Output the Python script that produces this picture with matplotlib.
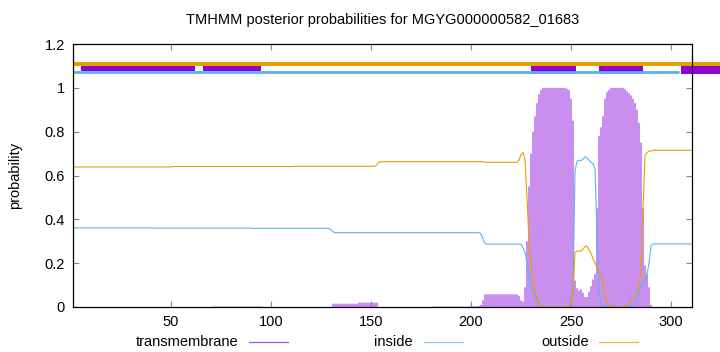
import matplotlib
matplotlib.use("Agg")
import matplotlib.pyplot as plt
from matplotlib.patches import Rectangle
from matplotlib.lines import Line2D

plt.rcParams['font.family'] = ['Liberation Sans', 'DejaVu Sans']

# posterior probabilities, one value per residue (1..310)
inside = [
    0.361, 0.361, 0.361, 0.361, 0.361, 0.361, 0.361, 0.361, 0.361, 0.361,
    0.361, 0.361, 0.361, 0.361, 0.361, 0.361, 0.361, 0.361, 0.361, 0.361,
    0.361, 0.361, 0.361, 0.361, 0.361, 0.361, 0.361, 0.361, 0.361, 0.361,
    0.361, 0.361, 0.361, 0.361, 0.361, 0.361, 0.361, 0.361, 0.361, 0.361,
    0.360, 0.360, 0.360, 0.360, 0.360, 0.360, 0.360, 0.360, 0.360, 0.360,
    0.360, 0.360, 0.360, 0.360, 0.360, 0.360, 0.360, 0.360, 0.360, 0.360,
    0.360, 0.360, 0.360, 0.360, 0.360, 0.360, 0.360, 0.360, 0.360, 0.360,
    0.360, 0.360, 0.360, 0.360, 0.360, 0.360, 0.360, 0.360, 0.360, 0.360,
    0.360, 0.360, 0.360, 0.360, 0.360, 0.360, 0.360, 0.360, 0.360, 0.360,
    0.359, 0.359, 0.359, 0.359, 0.359, 0.359, 0.359, 0.359, 0.359, 0.359,
    0.359, 0.359, 0.359, 0.359, 0.359, 0.359, 0.359, 0.359, 0.359, 0.359,
    0.359, 0.359, 0.359, 0.359, 0.359, 0.359, 0.359, 0.359, 0.359, 0.359,
    0.359, 0.359, 0.359, 0.359, 0.359, 0.359, 0.359, 0.359, 0.359, 0.352,
    0.343, 0.339, 0.339, 0.339, 0.339, 0.339, 0.339, 0.339, 0.339, 0.339,
    0.339, 0.339, 0.339, 0.339, 0.339, 0.339, 0.339, 0.339, 0.339, 0.339,
    0.339, 0.339, 0.339, 0.339, 0.339, 0.339, 0.339, 0.339, 0.339, 0.339,
    0.339, 0.339, 0.339, 0.339, 0.339, 0.339, 0.339, 0.339, 0.339, 0.339,
    0.339, 0.339, 0.339, 0.339, 0.339, 0.339, 0.339, 0.339, 0.339, 0.339,
    0.339, 0.339, 0.339, 0.339, 0.339, 0.339, 0.339, 0.339, 0.339, 0.339,
    0.339, 0.339, 0.339, 0.339, 0.339, 0.339, 0.339, 0.339, 0.339, 0.339,
    0.339, 0.339, 0.339, 0.339, 0.334, 0.310, 0.290, 0.287, 0.287, 0.287,
    0.287, 0.287, 0.287, 0.287, 0.287, 0.287, 0.287, 0.287, 0.287, 0.287,
    0.287, 0.287, 0.287, 0.287, 0.287, 0.270, 0.250, 0.200, 0.150, 0.100,
    0.070, 0.050, 0.030, 0.015, 0.005, 0.000, 0.000, 0.000, 0.000, 0.000,
    0.000, 0.000, 0.000, 0.000, 0.000, 0.000, 0.000, 0.000, 0.005, 0.020,
    0.100, 0.620, 0.665, 0.670, 0.668, 0.675, 0.685, 0.680, 0.670, 0.660,
    0.655, 0.630, 0.350, 0.060, 0.020, 0.010, 0.005, 0.000, 0.000, 0.000,
    0.000, 0.000, 0.000, 0.000, 0.000, 0.000, 0.000, 0.000, 0.000, 0.005,
    0.010, 0.020, 0.035, 0.060, 0.100, 0.110, 0.120, 0.150, 0.200, 0.280,
    0.288, 0.288, 0.288, 0.288, 0.288, 0.288, 0.288, 0.288, 0.288, 0.288,
    0.288, 0.288, 0.288, 0.288, 0.288, 0.288, 0.288, 0.288, 0.288, 0.288,
]

outside = [
    0.639, 0.639, 0.639, 0.639, 0.639, 0.639, 0.639, 0.639, 0.639, 0.639,
    0.639, 0.639, 0.639, 0.639, 0.639, 0.639, 0.639, 0.639, 0.639, 0.639,
    0.639, 0.639, 0.639, 0.639, 0.639, 0.639, 0.639, 0.639, 0.639, 0.639,
    0.639, 0.639, 0.639, 0.639, 0.639, 0.639, 0.639, 0.639, 0.639, 0.639,
    0.639, 0.639, 0.639, 0.639, 0.639, 0.639, 0.639, 0.639, 0.639, 0.639,
    0.641, 0.641, 0.641, 0.641, 0.641, 0.641, 0.641, 0.641, 0.641, 0.641,
    0.641, 0.641, 0.641, 0.641, 0.641, 0.641, 0.641, 0.641, 0.641, 0.641,
    0.641, 0.641, 0.641, 0.641, 0.641, 0.641, 0.641, 0.641, 0.641, 0.641,
    0.641, 0.641, 0.641, 0.641, 0.641, 0.641, 0.641, 0.641, 0.641, 0.641,
    0.641, 0.641, 0.641, 0.641, 0.641, 0.641, 0.641, 0.641, 0.641, 0.641,
    0.641, 0.641, 0.641, 0.641, 0.641, 0.641, 0.641, 0.641, 0.641, 0.641,
    0.642, 0.642, 0.642, 0.642, 0.642, 0.642, 0.642, 0.642, 0.642, 0.642,
    0.642, 0.642, 0.642, 0.642, 0.642, 0.642, 0.642, 0.642, 0.642, 0.642,
    0.642, 0.642, 0.642, 0.642, 0.642, 0.642, 0.642, 0.642, 0.642, 0.642,
    0.642, 0.642, 0.642, 0.642, 0.642, 0.642, 0.642, 0.642, 0.642, 0.642,
    0.642, 0.642, 0.650, 0.661, 0.663, 0.663, 0.663, 0.663, 0.663, 0.663,
    0.663, 0.663, 0.663, 0.663, 0.663, 0.663, 0.663, 0.663, 0.663, 0.663,
    0.663, 0.663, 0.663, 0.663, 0.663, 0.663, 0.663, 0.663, 0.663, 0.663,
    0.663, 0.663, 0.663, 0.663, 0.663, 0.663, 0.663, 0.663, 0.663, 0.663,
    0.663, 0.663, 0.663, 0.663, 0.663, 0.663, 0.663, 0.663, 0.663, 0.663,
    0.663, 0.663, 0.663, 0.663, 0.663, 0.663, 0.660, 0.660, 0.660, 0.660,
    0.660, 0.660, 0.660, 0.660, 0.660, 0.660, 0.660, 0.660, 0.660, 0.660,
    0.660, 0.660, 0.660, 0.670, 0.695, 0.705, 0.670, 0.500, 0.300, 0.200,
    0.130, 0.080, 0.040, 0.015, 0.005, 0.000, 0.000, 0.000, 0.000, 0.000,
    0.000, 0.000, 0.000, 0.000, 0.000, 0.000, 0.000, 0.000, 0.005, 0.020,
    0.050, 0.250, 0.255, 0.255, 0.255, 0.265, 0.275, 0.278, 0.260, 0.245,
    0.220, 0.200, 0.180, 0.160, 0.150, 0.110, 0.050, 0.020, 0.010, 0.000,
    0.000, 0.000, 0.000, 0.000, 0.000, 0.000, 0.005, 0.010, 0.015, 0.025,
    0.035, 0.050, 0.070, 0.100, 0.160, 0.450, 0.690, 0.705, 0.710, 0.712,
    0.715, 0.715, 0.715, 0.715, 0.715, 0.715, 0.715, 0.715, 0.715, 0.715,
    0.715, 0.715, 0.715, 0.715, 0.715, 0.715, 0.715, 0.715, 0.715, 0.715,
]

transmembrane = [
    0.000, 0.000, 0.000, 0.000, 0.000, 0.000, 0.000, 0.000, 0.000, 0.000,
    0.000, 0.000, 0.000, 0.000, 0.000, 0.000, 0.000, 0.000, 0.000, 0.000,
    0.000, 0.000, 0.000, 0.000, 0.000, 0.000, 0.000, 0.000, 0.000, 0.000,
    0.000, 0.000, 0.000, 0.000, 0.000, 0.000, 0.000, 0.000, 0.000, 0.000,
    0.000, 0.000, 0.000, 0.000, 0.000, 0.000, 0.000, 0.000, 0.000, 0.000,
    0.000, 0.000, 0.000, 0.000, 0.000, 0.000, 0.000, 0.000, 0.000, 0.000,
    0.000, 0.000, 0.000, 0.000, 0.000, 0.000, 0.000, 0.000, 0.000, 0.000,
    0.002, 0.002, 0.002, 0.002, 0.002, 0.002, 0.002, 0.002, 0.002, 0.002,
    0.002, 0.002, 0.002, 0.002, 0.002, 0.002, 0.002, 0.002, 0.002, 0.002,
    0.002, 0.002, 0.002, 0.002, 0.002, 0.000, 0.000, 0.000, 0.000, 0.000,
    0.000, 0.000, 0.000, 0.000, 0.000, 0.000, 0.000, 0.000, 0.000, 0.000,
    0.000, 0.000, 0.000, 0.000, 0.000, 0.000, 0.000, 0.000, 0.000, 0.000,
    0.000, 0.000, 0.000, 0.000, 0.000, 0.000, 0.000, 0.000, 0.000, 0.000,
    0.015, 0.015, 0.015, 0.015, 0.015, 0.015, 0.015, 0.015, 0.015, 0.015,
    0.015, 0.015, 0.015, 0.020, 0.020, 0.020, 0.020, 0.020, 0.020, 0.020,
    0.020, 0.020, 0.020, 0.000, 0.000, 0.000, 0.000, 0.000, 0.000, 0.000,
    0.000, 0.000, 0.000, 0.000, 0.000, 0.000, 0.000, 0.000, 0.000, 0.000,
    0.000, 0.000, 0.000, 0.000, 0.000, 0.000, 0.000, 0.000, 0.000, 0.000,
    0.002, 0.002, 0.002, 0.002, 0.002, 0.002, 0.002, 0.002, 0.002, 0.002,
    0.002, 0.002, 0.002, 0.002, 0.002, 0.002, 0.002, 0.002, 0.002, 0.003,
    0.003, 0.003, 0.003, 0.005, 0.010, 0.030, 0.058, 0.058, 0.058, 0.058,
    0.058, 0.058, 0.058, 0.058, 0.058, 0.058, 0.058, 0.058, 0.058, 0.058,
    0.058, 0.058, 0.058, 0.050, 0.030, 0.025, 0.090, 0.300, 0.550, 0.700,
    0.800, 0.870, 0.930, 0.970, 0.990, 1.000, 1.000, 1.000, 1.000, 1.000,
    1.000, 1.000, 1.000, 1.000, 1.000, 1.000, 1.000, 0.995, 0.990, 0.950,
    0.850, 0.120, 0.085, 0.075, 0.080, 0.065, 0.045, 0.045, 0.070, 0.095,
    0.125, 0.150, 0.450, 0.780, 0.820, 0.870, 0.950, 0.980, 0.990, 1.000,
    1.000, 1.000, 1.000, 1.000, 1.000, 1.000, 0.995, 0.985, 0.975, 0.965,
    0.950, 0.930, 0.900, 0.840, 0.750, 0.450, 0.190, 0.150, 0.090, 0.010,
    0.000, 0.000, 0.000, 0.000, 0.000, 0.000, 0.000, 0.000, 0.000, 0.000,
    0.000, 0.000, 0.000, 0.000, 0.000, 0.000, 0.000, 0.000, 0.000, 0.000,
]

residues = list(range(1, len(inside) + 1))

# topology track above the curves (residue spans)
outside_track = [(1, 324.5)]
inside_track = [(1, 304)]
helix_boxes = [(230, 252.3), (264, 286)]
upper_boxes = [(5, 43), (43, 62), (66, 95)]
end_box = [(305, 324.5)]

C_TM = '#9400d3'
C_IN = '#56b4e9'
C_OUT = '#e69f00'

fig = plt.figure(figsize=(7.2, 3.52), dpi=100)
ax = fig.add_axes([73 / 720, 1 - 307 / 352, 619 / 720, 263 / 352])

tm_lines = ax.vlines(residues, 0, transmembrane, color='#b45ee8', lw=1.0)
tm_lines.set_snap(False)
ax.plot(residues, inside, color=C_IN, lw=0.8)
ax.plot(residues, outside, color=C_OUT, lw=0.8)

for a, b in outside_track:
    ax.plot([a, b], [1.108, 1.108], color=C_OUT, lw=2.9, clip_on=False,
            solid_capstyle='butt')
for a, b in inside_track:
    ax.plot([a, b], [1.072, 1.072], color=C_IN, lw=2.0, clip_on=False,
            solid_capstyle='butt')
for a, b in helix_boxes:
    ax.add_patch(Rectangle((a, 1.064), b - a, 0.049, color=C_TM, lw=0,
                           clip_on=False))
for a, b in upper_boxes:
    ax.add_patch(Rectangle((a, 1.077), b - a, 0.024, color=C_TM, lw=0,
                           clip_on=False))
for a, b in end_box:
    ax.add_patch(Rectangle((a, 1.064), b - a, 0.037, color=C_TM, lw=0,
                           clip_on=False))

ax.set_xlim(1, 310.5)
ax.set_ylim(0, 1.2)
ax.set_xticks([50, 100, 150, 200, 250, 300])
ax.set_yticks([0, 0.2, 0.4, 0.6, 0.8, 1.0, 1.2])
ax.set_yticklabels(['0', '0.2', '0.4', '0.6', '0.8', '1', '1.2'])
ax.tick_params(direction='in', length=4, width=0.8, color='#888888',
               top=True, right=True, labelsize=10.5, pad=6)
for s in ax.spines.values():
    s.set_linewidth(0.9)
    s.set_zorder(5)

ax.set_ylabel('probability', fontsize=10.5, labelpad=16)
fig.text(382.5 / 720, 1 - 20 / 352,
         'TMHMM posterior probabilities for MGYG000000582_01683',
         ha='center', va='center', fontsize=10.5)

# legend row below the axis
legend_items = [('transmembrane', '#a550d8', 238, 249),
                ('inside', '#80c4ee', 413, 424),
                ('outside', '#eab04a', 589, 599)]
ly = 1 - 342 / 352
for label, col, tx, lx in legend_items:
    fig.text(tx / 720, ly, label, ha='right', va='center', fontsize=10.5)
    fig.add_artist(Line2D([lx / 720, (lx + 39) / 720], [ly, ly], color=col,
                          lw=0.9))

fig.savefig('out.png', dpi=100)
